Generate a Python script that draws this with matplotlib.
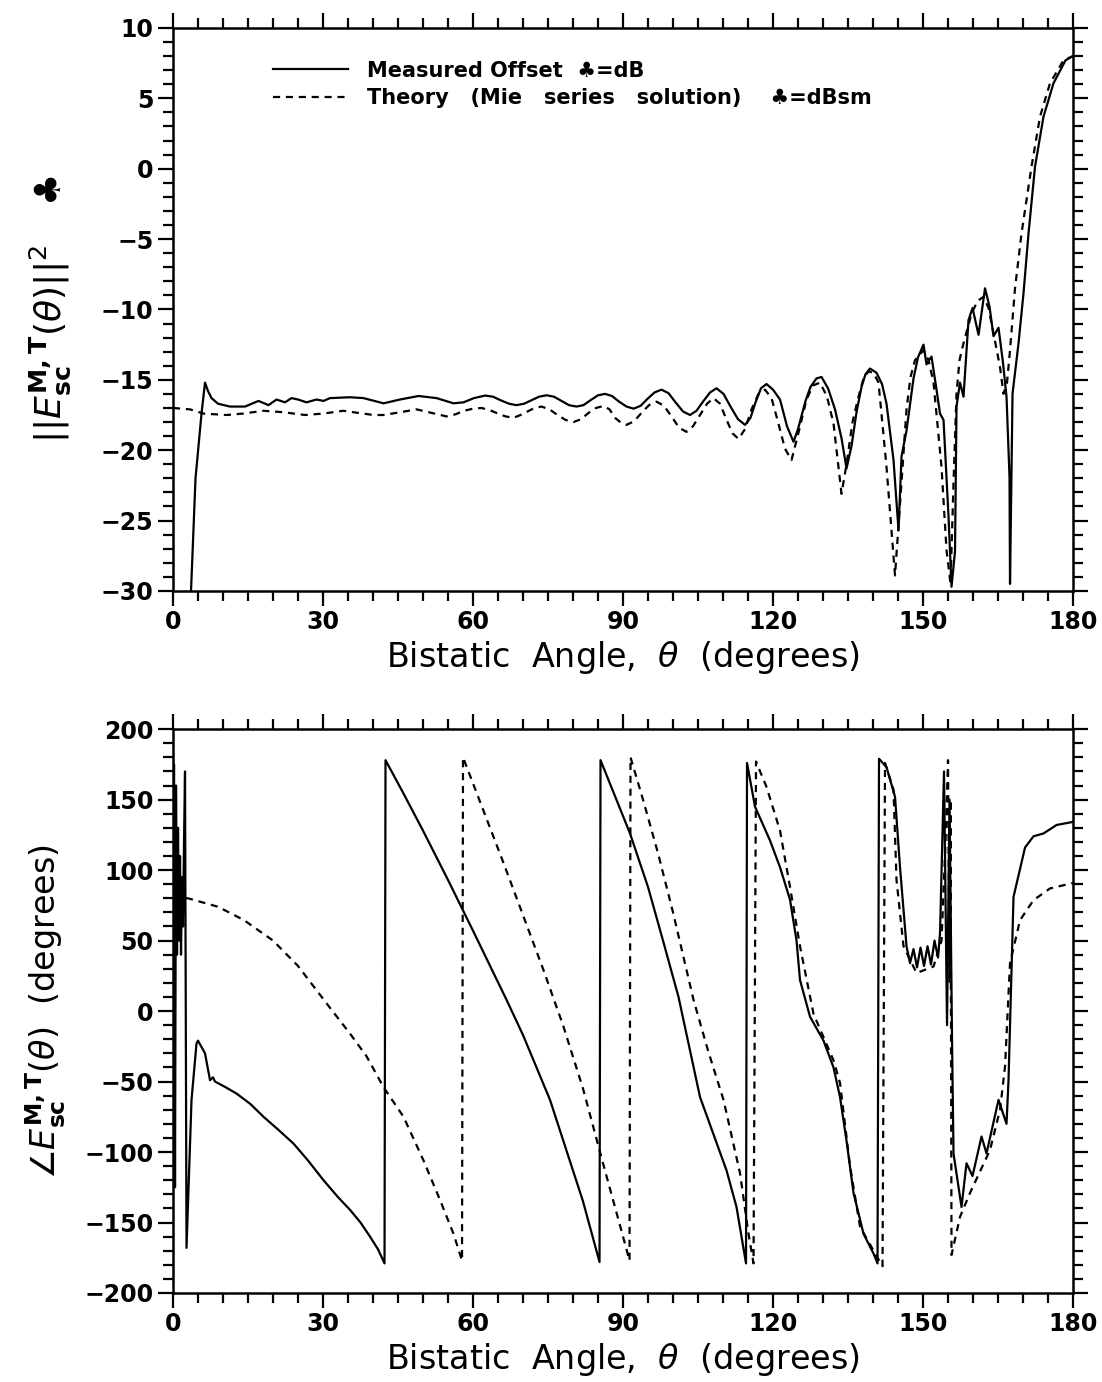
import numpy as np
import matplotlib.pyplot as plt
from matplotlib.ticker import MultipleLocator

CLUB = '\u2663'

# ---- top panel: magnitude (dB) ----
mag_meas_x = [3.6, 4.5, 5.7, 6.4, 7.0, 7.7, 9.0, 11.4, 14.4, 17.1, 19.1, 20.7, 22.4, 23.7,
              25.0, 26.7, 28.7, 30.1, 31.4, 35.4, 38.1, 42.1, 45.4, 49.1, 52.7, 56.1, 58.1,
              60.2, 62.4, 64.0, 65.5, 67.2, 68.7, 70.2, 71.7, 73.2, 74.7, 76.2, 77.7, 79.2,
              80.7, 82.1, 83.5, 85.0, 86.4, 87.8, 89.2, 90.7, 92.1, 93.5, 94.9, 96.3, 97.7,
              99.1, 100.5, 102.0, 103.4, 104.7, 106.0, 107.4, 108.7, 110.1, 111.5, 113.0,
              114.4, 115.5, 116.5, 117.6, 118.7, 120.0, 121.4, 122.8, 124.1, 125.0, 126.5,
              127.5, 128.7, 129.7, 131.0, 132.4, 133.7, 134.7, 135.7, 136.7, 137.7, 138.5,
              139.4, 140.7, 141.8, 142.7, 144.1, 145.1, 145.7, 146.7, 148.1, 149.0, 150.1,
              150.7, 151.7, 152.7, 153.4, 154.1, 155.1, 155.7, 156.4, 156.7, 157.4, 158.1,
              159.1, 159.9, 161.1, 162.4, 163.3, 164.1, 165.1, 166.0, 166.7, 167.3, 167.4,
              167.9, 169.1, 170.1, 171.1, 172.4, 174.1, 176.1, 178.5, 180.0]
mag_meas_y = [-30.0, -22.0, -17.4, -15.2, -15.8, -16.3, -16.7, -16.9, -16.9, -16.5, -16.8,
              -16.4, -16.6, -16.3, -16.4, -16.6, -16.4, -16.5, -16.3, -16.24, -16.3, -16.67,
              -16.4, -16.15, -16.3, -16.67, -16.6,
              -16.3, -16.12, -16.2, -16.45, -16.7, -16.8, -16.7, -16.45, -16.2, -16.1, -16.2,
              -16.5, -16.8, -16.9, -16.8, -16.45, -16.1, -16.0, -16.15, -16.55, -16.9, -17.05,
              -16.85, -16.35, -15.9, -15.7, -15.95, -16.6, -17.25, -17.5, -17.2, -16.55, -15.9,
              -15.6, -16.0, -16.9, -17.8, -18.2, -17.7, -16.6, -15.6, -15.3, -15.7, -16.4,
              -18.3, -19.4, -18.5, -16.5, -15.5, -14.9, -14.8, -15.6, -17.1, -19.15, -21.3,
              -19.7, -17.3, -15.5, -14.6, -14.2, -14.5, -15.3, -16.7, -20.7, -25.7, -20.45,
              -18.6, -14.9, -13.4, -12.5, -13.9, -13.35, -15.7, -17.4, -17.85, -24.7, -29.7,
              -27.2, -16.9, -15.2, -16.2, -10.75, -9.9, -11.8, -8.5, -9.8, -11.9, -11.3,
              -13.8, -16.2, -21.9, -29.5, -16.0, -12.4, -8.85, -4.6, 0.15, 3.7, 6.07, 7.7,
              8.0]

mag_theo_x = [0.0, 3.4, 6.1, 10.7, 14.0, 18.1, 22.0, 26.4, 30.0, 34.1, 37.0, 40.1, 42.1,
              45.5, 48.7, 51.7, 54.7, 56.5, 58.2, 60.0, 61.7, 63.3, 65.0, 66.5, 68.1, 69.5,
              70.9, 72.3, 73.7, 75.3, 76.9, 78.5, 80.1, 81.6, 83.1, 84.6, 86.1, 87.3, 88.4,
              89.6, 90.7, 92.2, 93.7, 95.2, 96.7, 98.2, 99.7, 101.2, 102.7, 104.0, 105.4,
              106.8, 108.1, 109.4, 110.6, 111.9, 113.1, 114.4, 115.7, 117.1, 118.4, 119.7,
              121.0, 122.4, 123.7, 125.2, 126.7, 128.0, 129.4, 130.8, 132.1, 133.7, 134.7,
              135.9, 137.1, 138.1, 139.1, 140.1, 141.1, 142.7, 144.4, 145.4, 146.7, 147.5,
              148.4, 150.1, 151.1, 152.1, 153.7, 154.7, 155.5, 156.1, 156.7, 157.3, 158.1,
              159.7, 160.9, 162.1, 163.1, 164.1, 165.4, 166.1, 166.8, 167.4, 168.4, 169.7,
              171.7, 173.4, 175.4, 178.1, 180.0]
mag_theo_y = [-17.0, -17.1, -17.4, -17.5, -17.4, -17.2, -17.3, -17.5, -17.4, -17.2, -17.35,
              -17.5, -17.5, -17.3, -17.1, -17.35, -17.6, -17.45, -17.2, -17.05, -17.0,
              -17.15, -17.4, -17.6, -17.7, -17.5, -17.25, -17.0, -16.9, -17.1, -17.5, -17.85,
              -18.0, -17.8, -17.35, -17.0, -16.86, -17.1, -17.7, -18.05, -18.2, -17.95,
              -17.35, -16.8, -16.55, -16.85, -17.6, -18.4, -18.7, -18.3, -17.5, -16.7, -16.3,
              -16.7, -17.75, -18.8, -19.2, -18.5, -17.1, -16.0, -15.7, -16.3, -18.0, -19.9,
              -20.7, -18.6, -16.4, -15.4, -15.2, -16.2, -18.1, -23.1, -21.0, -18.0, -16.2,
              -14.9, -14.4, -14.5, -15.2, -21.2, -28.9, -23.8, -17.1, -14.8, -13.6, -12.9,
              -13.6, -15.2, -21.2, -27.1, -29.5, -22.3, -16.0, -13.6, -12.4, -10.3, -9.4,
              -9.1, -9.9, -11.7, -14.1, -16.0, -15.2, -12.9, -8.5, -4.6, 0.15, 3.7, 6.07, 7.7,
              8.0]

# ---- bottom panel: phase (degrees) ----
ph_meas_x = [0.0, 0.2, 0.4, 0.6, 0.8, 1.0, 1.2, 1.4, 1.6, 1.8, 2.0, 2.2, 2.4, 2.7, 3.7,
             4.7, 5.0, 6.4, 7.4, 8.0, 8.4, 10.5, 12.7, 15.5, 18.1, 21.0, 24.1, 27.0, 30.1,
             33.0, 35.4, 37.5, 39.4, 41.0, 42.3,
             42.5, 46.0, 50.0, 55.0, 60.0, 66.7, 70.0, 75.4, 78.7, 82.0, 85.3,
             85.5, 88.0, 91.4, 95.0, 98.0, 101.1, 105.4, 110.7, 112.7, 114.6,
             114.8, 116.4, 119.4, 121.4, 123.4, 124.7, 125.4, 127.4, 130.1, 132.1, 133.4,
             134.7, 136.1, 138.1, 140.1, 140.9,
             141.2, 142.7, 144.4, 145.4, 146.7, 147.4, 148.1, 148.8, 149.5, 150.2, 150.9,
             151.6, 152.3, 153.0, 153.4, 154.2, 154.8, 155.3, 155.8, 156.1, 157.7, 158.7,
             159.9, 161.7, 162.7, 165.1, 166.7, 167.1, 168.1, 170.4, 172.1, 174.1, 176.7,
             179.7, 180.0]
ph_meas_y = [60, 175, -125, 160, 40, 130, 50, 110, 40, 95, 60, 120, 170, -168, -63,
             -23, -21, -30, -49, -47, -50, -54, -58.5, -66, -75, -84, -94, -106, -120,
             -132, -141, -150, -160, -169, -179,
             178, 155, 128, 93, 57, 8, -17, -63, -99, -135, -178,
             178, 156, 126, 88, 50, 10, -61, -113, -139, -179,
             176, 145, 121, 102, 79, 50, 22, -4, -21, -40, -61,
             -92, -129, -158, -172, -179,
             179, 173, 152, 102, 46, 34, 44, 31, 45, 32, 46, 33, 50, 38, 55, 170, -10,
             150, -20, -101, -139, -108, -117, -89, -101, -63, -80, -49, 81, 116, 124,
             126, 132, 134, 134.5]

ph_theo_x = [0.0, 3.0, 9.0, 14.2, 20.0, 25.0, 30.7, 35.4, 38.7, 42.1, 46.1, 50.1, 53.4,
             56.1, 57.8,
             58.0, 62.0, 66.0, 70.0, 74.0, 78.0, 82.0, 86.0, 88.7, 91.3,
             91.5, 94.0, 97.0, 100.0, 104.1, 107.0, 110.1, 113.4, 115.1, 116.1,
             116.6, 118.7, 121.4, 123.4, 125.4, 128.1, 132.1, 133.4, 135.4, 137.4, 140.1,
             141.9,
             142.4, 144.1, 144.7, 146.1, 148.7, 152.1, 153.7, 154.5, 155.0, 155.3, 155.5,
             155.7, 157.4, 159.4, 163.4, 165.4, 166.4, 167.4, 169.4, 172.1, 175.4, 179.7,
             180.0]
ph_theo_y = [80, 80, 74, 64.5, 50, 32, 5.5, -16, -32, -54, -75, -106, -134, -158, -177,
             180, 143, 106, 68, 30, -10, -55, -108, -143, -177,
             180, 150, 112, 70, 8, -28, -63, -115, -158, -179,
             177, 159, 128, 88, 46, -2, -35, -51, -110, -153, -170, -181,
             176, 157, 93, 46, 27, 31.6, 50, 120, 178, 20, 150, -173, -146, -129, -98.6,
             -70, -39.5, 34, 64.5, 78.7, 87, 90.6, 90.6]

plt.rcParams['font.family'] = 'DejaVu Sans'
fig = plt.figure(figsize=(11.02, 13.82), dpi=100)
ax1 = fig.add_axes([0.157, 0.5724, 0.8167, 0.4074])
ax2 = fig.add_axes([0.157, 0.0644, 0.8167, 0.408])

lw = 1.6
dash = (0, (3.2, 2.6))

ax1.plot(mag_meas_x, mag_meas_y, color='black', lw=lw,
         label='Measured Offset  ' + CLUB + '=dB')
ax1.plot(mag_theo_x, mag_theo_y, color='black', lw=lw, linestyle=dash,
         label='Theory   (Mie   series   solution)    ' + CLUB + '=dBsm')
ax2.plot(ph_meas_x, ph_meas_y, color='black', lw=lw)
ax2.plot(ph_theo_x, ph_theo_y, color='black', lw=lw, linestyle=dash)

ax1.set_ylim(-30, 10)
ax1.yaxis.set_major_locator(MultipleLocator(5))
ax1.yaxis.set_minor_locator(MultipleLocator(1))
ax2.set_ylim(-200, 200)
ax2.yaxis.set_major_locator(MultipleLocator(50))
ax2.yaxis.set_minor_locator(MultipleLocator(10))

for ax in (ax1, ax2):
    ax.set_xlim(0, 180)
    ax.xaxis.set_major_locator(MultipleLocator(30))
    ax.xaxis.set_minor_locator(MultipleLocator(5))
    ax.tick_params(which='both', direction='out', top=True, right=True, width=1.6,
                   labelsize=17, pad=3)
    ax.tick_params(which='major', length=11)
    ax.tick_params(which='minor', length=7)
    for lab in ax.get_xticklabels() + ax.get_yticklabels():
        lab.set_fontweight('bold')
    for sp in ax.spines.values():
        sp.set_linewidth(1.8)
    ax.set_xlabel(r'Bistatic  Angle,  $\theta$  (degrees)', fontsize=24, labelpad=3)

ax1.set_ylabel(r'$||E^{\mathbf{M,T}}_{\mathbf{sc}}(\theta)||^2$   ' + CLUB, fontsize=26,
               fontweight='bold', labelpad=20)
ax2.set_ylabel(r'$\angle E^{\mathbf{M,T}}_{\mathbf{sc}}(\theta)$  (degrees)', fontsize=24,
               labelpad=12)

leg = ax1.legend(loc='upper left', bbox_to_anchor=(0.09, 0.975), frameon=False,
                 handlelength=3.6, handletextpad=0.9, labelspacing=0.35,
                 prop={'size': 15, 'weight': 'bold'})

fig.savefig('out.png', dpi=100)
